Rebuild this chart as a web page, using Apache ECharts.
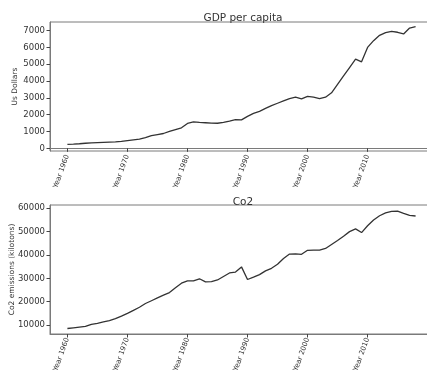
<!DOCTYPE html>
<html>
<head>
<meta charset="utf-8">
<script src="https://cdn.jsdelivr.net/npm/echarts@6/dist/echarts.min.js"></script>
<style>
  html, body { margin: 0; padding: 0; background: #fff; }
  #chart { width: 427px; height: 371px; }
</style>
</head>
<body>
<div id="chart"></div>
<script>
// Years covered by both series
const years = [
  1960, 1961, 1962, 1963, 1964, 1965, 1966, 1967, 1968, 1969,
  1970, 1971, 1972, 1973, 1974, 1975, 1976, 1977, 1978, 1979,
  1980, 1981, 1982, 1983, 1984, 1985, 1986, 1987, 1988, 1989,
  1990, 1991, 1992, 1993, 1994, 1995, 1996, 1997, 1998, 1999,
  2000, 2001, 2002, 2003, 2004, 2005, 2006, 2007, 2008, 2009,
  2010, 2011, 2012, 2013, 2014, 2015, 2016, 2017, 2018
];

// GDP per capita, US dollars
const gdpPerCapita = [
  230, 245, 270, 300, 320, 335, 350, 365, 380, 410,
  460, 500, 540, 640, 760, 820, 880, 1000, 1110, 1220,
  1480, 1570, 1540, 1520, 1500, 1490, 1540, 1620, 1710, 1690,
  1900, 2080, 2200, 2370, 2540, 2680, 2820, 2960, 3040, 2940,
  3090, 3040, 2950, 3040, 3300, 3800, 4300, 4800, 5300, 5140,
  6000, 6400, 6720, 6880, 6950, 6900, 6800, 7150, 7230
];

// CO2 emissions, kilotons
const co2Emissions = [
  8500, 8800, 9100, 9400, 10300, 10700, 11300, 11900, 12700, 13800,
  15000, 16300, 17600, 19200, 20400, 21600, 22800, 23900, 26000, 27900,
  28900, 28900, 29800, 28500, 28600, 29300, 30800, 32300, 32700, 34900,
  29500, 30500, 31600, 33200, 34300, 36000, 38500, 40400, 40500, 40300,
  42000, 42100, 42100, 42800, 44500, 46200, 48000, 50000, 51200, 49600,
  52500, 55000, 56800, 58000, 58700, 58800, 57800, 57000, 56700
];

// Axis ticks and labels
const xTickYears = [1960, 1970, 1980, 1990, 2000, 2010, 2020];
const xLabelYears = [1960, 1970, 1980, 1990, 2000, 2010];
const gdpTicks = [0, 1000, 2000, 3000, 4000, 5000, 6000, 7000];
const co2Ticks = [10000, 20000, 30000, 40000, 50000, 60000];

const FONT = 'DejaVu Sans';
const TEXT = '#333';
const SPINE = '#7a7a7a';

function pairs(vals) {
  return years.map((y, i) => [y, vals[i]]);
}

function xAxisFor(gridIndex) {
  return {
    type: 'value',
    gridIndex: gridIndex,
    min: 1957.1,
    max: 2020.9,
    splitLine: { show: false },
    axisLine: { show: true, lineStyle: { color: SPINE, width: 1 } },
    axisTick: { show: true, length: 3.5, customValues: xTickYears, lineStyle: { color: '#444', width: 1 } },
    axisLabel: {
      customValues: xLabelYears,
      rotate: 70,
      margin: 4,
      fontFamily: FONT,
      fontSize: 7,
      color: TEXT,
      formatter: v => 'Year ' + v
    }
  };
}

function yAxisFor(gridIndex, min, max, ticks, name, gap) {
  return {
    type: 'value',
    gridIndex: gridIndex,
    min: min,
    max: max,
    name: name,
    nameLocation: 'middle',
    nameGap: gap,
    nameMoveOverlap: false,
    nameTextStyle: { fontFamily: FONT, fontSize: 7.5, color: TEXT },
    splitLine: { show: false },
    axisLine: { show: true, lineStyle: { color: SPINE, width: 1 } },
    axisTick: { show: true, length: 3.5, customValues: ticks, lineStyle: { color: '#444', width: 1 } },
    axisLabel: {
      customValues: ticks,
      margin: 5,
      fontFamily: FONT,
      fontSize: 8.5,
      color: TEXT,
      formatter: v => String(v)
    }
  };
}

const chart = echarts.init(document.getElementById('chart'), null, { renderer: 'canvas' });

const gridBase = {
  left: 50, right: -6, height: 129,
  show: true, borderColor: SPINE, borderWidth: 1, backgroundColor: 'transparent',
  containLabel: false, outerBoundsMode: 'none'
};

chart.setOption({
  animation: false,
  backgroundColor: '#fff',
  title: [
    {
      text: 'GDP per capita',
      left: 238, top: 8, textAlign: 'center',
      textStyle: { fontFamily: FONT, fontSize: 10.5, fontWeight: 'normal', color: TEXT }
    },
    {
      text: 'Co2',
      left: 238, top: 192, textAlign: 'center',
      textStyle: { fontFamily: FONT, fontSize: 10.5, fontWeight: 'normal', color: TEXT }
    }
  ],
  grid: [
    Object.assign({}, gridBase, { top: 22 }),
    Object.assign({}, gridBase, { top: 205 })
  ],
  xAxis: [xAxisFor(0), xAxisFor(1)],
  yAxis: [
    yAxisFor(0, -160, 7510, gdpTicks, 'Us Dollars', 31),
    yAxisFor(1, 6150, 61410, co2Ticks, 'Co2 emissions (kilotons)', 34)
  ],
  series: [
    {
      type: 'line', xAxisIndex: 0, yAxisIndex: 0,
      data: pairs(gdpPerCapita),
      showSymbol: false,
      lineStyle: { color: '#333', width: 1.3 }
    },
    {
      type: 'line', xAxisIndex: 1, yAxisIndex: 1,
      data: pairs(co2Emissions),
      showSymbol: false,
      lineStyle: { color: '#333', width: 1.3 }
    }
  ]
});
</script>
</body>
</html>
